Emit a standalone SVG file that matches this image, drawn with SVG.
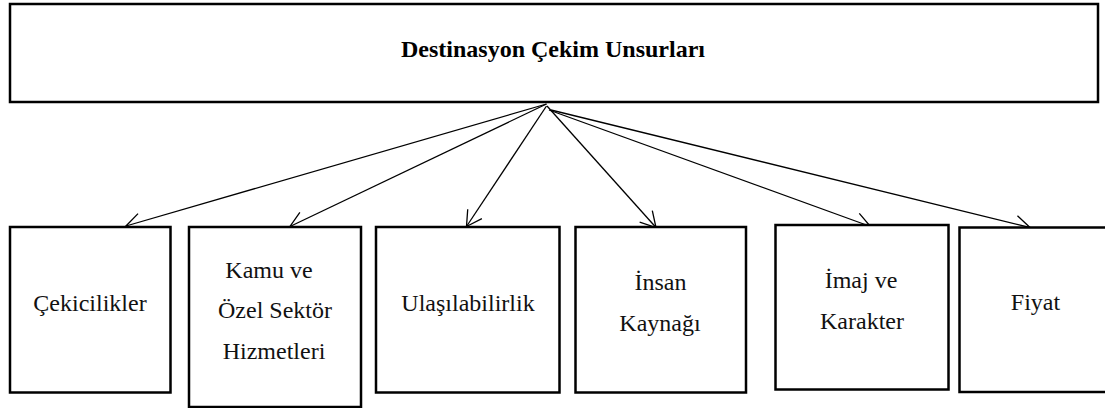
<svg xmlns="http://www.w3.org/2000/svg" width="1105" height="408" viewBox="0 0 1105 408">
  <style>
    .box { fill: #ffffff; stroke: #000000; stroke-width: 2.5; }
    .lbl { font-family: 'Liberation Serif', 'Times New Roman', serif; font-size: 24px; fill: #111111; text-anchor: middle; }
    .title { font-family: 'Liberation Serif', 'Times New Roman', serif; font-size: 24px; font-weight: bold; fill: #000000; text-anchor: middle; }
    .edge { fill: none; stroke: #000000; stroke-width: 1.3; marker-end: url(#open); }
  </style>
  <defs>
    <!-- open V arrowhead -->
    <marker id="open" markerUnits="userSpaceOnUse" markerWidth="40" markerHeight="40" refX="0" refY="0" viewBox="-20 -20 40 40" orient="auto" overflow="visible">
      <path d="M -15 -8.5 L 0 0 L -15 8.5" fill="none" stroke="#000000" stroke-width="1.3"/>
    </marker>
  </defs>

  <rect width="1105" height="408" fill="#ffffff"/>

  <!-- root node -->
  <g id="root">
    <rect class="box" x="10" y="4" width="1088" height="98"/>
    <line x1="9" y1="102" x2="1099" y2="102" stroke="#000000" stroke-width="2"/>
    <text class="title" x="553" y="57">Destinasyon Çekim Unsurları</text>
  </g>

  <!-- connectors from the root to each factor -->
  <g id="connectors">
    <line class="edge" x1="546.5" y1="104" x2="126" y2="226"/>
    <line class="edge" x1="546.5" y1="104" x2="290" y2="226.5"/>
    <line class="edge" x1="546.5" y1="106" x2="466.5" y2="226.5"/>
    <line class="edge" x1="547" y1="106" x2="656" y2="227.5"/>
    <line class="edge" x1="549" y1="110" x2="870.5" y2="226.5"/>
    <line class="edge" x1="551" y1="110" x2="1030" y2="227.5"/>
  </g>

  <g id="cekicilikler">
    <rect class="box" x="10" y="227" width="160.5" height="165.5"/>
    <text class="lbl" x="90" y="311">Çekicilikler</text>
  </g>

  <g id="kamu-ozel">
    <rect class="box" x="189" y="227" width="172" height="180"/>
    <text class="lbl" x="269" y="278">Kamu ve</text>
    <text class="lbl" x="275" y="318">Özel Sektör</text>
    <text class="lbl" x="274" y="359">Hizmetleri</text>
  </g>

  <g id="ulasilabilirlik">
    <rect class="box" x="376" y="227" width="183.5" height="165.5"/>
    <text class="lbl" x="468" y="311">Ulaşılabilirlik</text>
  </g>

  <g id="insan-kaynagi">
    <rect class="box" x="575.5" y="227" width="170.5" height="165.5"/>
    <text class="lbl" x="660.5" y="290">İnsan</text>
    <text class="lbl" x="660" y="331">Kaynağı</text>
  </g>

  <g id="imaj-karakter">
    <rect class="box" x="775.5" y="225" width="173" height="164.5"/>
    <text class="lbl" x="861" y="288">İmaj ve</text>
    <text class="lbl" x="862" y="329">Karakter</text>
  </g>

  <g id="fiyat">
    <rect class="box" x="959.5" y="227.5" width="150" height="164.5"/>
    <text class="lbl" x="1035.5" y="310">Fiyat</text>
  </g>
</svg>
